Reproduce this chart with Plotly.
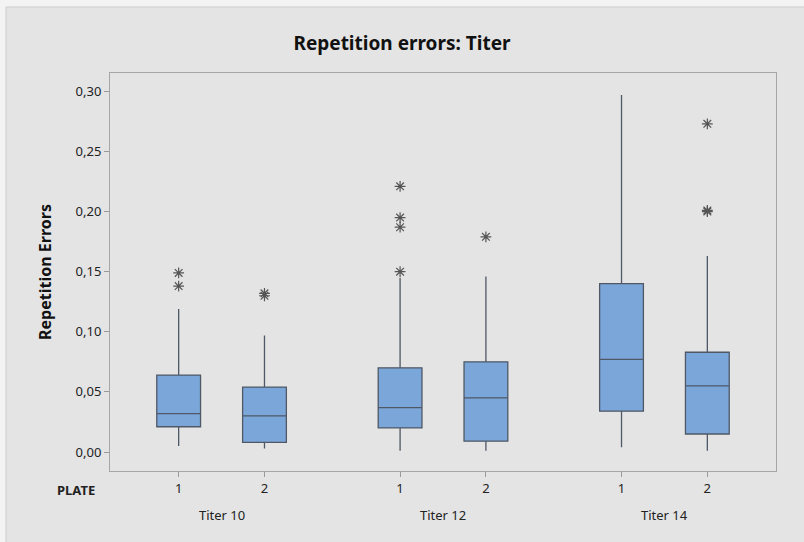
import plotly.graph_objects as go

groups = ["Titer 10", "Titer 12", "Titer 14"]
plates = ["1", "2"]

# per box, order: T10P1, T10P2, T12P1, T12P2, T14P1, T14P2
lower_whisker = [0.005, 0.003, 0.001, 0.001, 0.004, 0.001]
q1 = [0.021, 0.008, 0.020, 0.009, 0.034, 0.015]
median = [0.032, 0.030, 0.037, 0.045, 0.077, 0.055]
q3 = [0.064, 0.054, 0.070, 0.075, 0.140, 0.083]
upper_whisker = [0.119, 0.097, 0.145, 0.146, 0.297, 0.163]
outliers = [
    [0.149, 0.138],
    [0.132, 0.130],
    [0.221, 0.195, 0.187, 0.150],
    [0.179],
    [],
    [0.273, 0.201, 0.200],
]

GAP = 2.58
xpos = []
for g in range(len(groups)):
    for p in range(len(plates)):
        xpos.append(g * GAP + p)

fig = go.Figure()
for i, x in enumerate(xpos):
    fig.add_trace(go.Box(
        x=[x], q1=[q1[i]], median=[median[i]], q3=[q3[i]],
        lowerfence=[lower_whisker[i]], upperfence=[upper_whisker[i]],
        width=0.51, whiskerwidth=0, boxpoints=False,
        fillcolor="#7ba6da", line=dict(color="#4f5866", width=1.3),
        showlegend=False, hoverinfo="skip",
    ))
    if outliers[i]:
        fig.add_trace(go.Scatter(
            x=[x] * len(outliers[i]), y=outliers[i], mode="markers",
            marker=dict(symbol="asterisk-open", size=9, color="#555555",
                        line=dict(color="#555555", width=1.2)),
            showlegend=False, hoverinfo="skip",
        ))

font = "Noto Sans, Open Sans, sans-serif"

fig.update_layout(
    width=804, height=542,
    margin=dict(l=110, r=28, t=73, b=71),
    paper_bgcolor="#f3f3f3", plot_bgcolor="white",
    separators=",.",
    font=dict(family=font, size=12, color="#222222"),
    title=dict(text="<b>Repetition errors: Titer</b>", x=0.5, xanchor="center",
               y=1 - 43 / 542, yanchor="middle",
               font=dict(family=font, size=19, color="#111111")),
    xaxis=dict(
        range=[-0.80, 2 * GAP + 1 + 0.80],
        tickvals=xpos, ticktext=plates * len(groups),
        ticks="outside", ticklen=5, tickcolor="#999999",
        showgrid=False, zeroline=False,
        showline=True, linecolor="#a6a6a6", mirror=True, linewidth=1,
        tickfont=dict(size=13, color="#222222"),
    ),
    yaxis=dict(
        range=[-0.0158, 0.3153],
        tickvals=[0, 0.05, 0.10, 0.15, 0.20, 0.25, 0.30],
        tickformat=".2f",
        ticks="outside", ticklen=5, tickcolor="#999999",
        showgrid=False, zeroline=False,
        showline=True, linecolor="#a6a6a6", mirror=True, linewidth=1,
        tickfont=dict(size=13, color="#222222"),
        title=dict(text="<b>Repetition Errors</b>", standoff=20,
                   font=dict(family=font, size=16, color="#111111")),
    ),
    shapes=[dict(type="rect", xref="paper", yref="paper",
                 x0=(6 - 110) / 666, x1=1.2, y0=-0.3, y1=(471 - 7) / 398,
                 fillcolor="#e4e4e4", line=dict(color="#cdcdcd", width=1),
                 layer="below")],
)

annotations = [dict(text="<b>PLATE</b>", xref="paper", yref="paper",
                    x=(76 - 110) / 666, y=(471 - 490) / 398,
                    showarrow=False, xanchor="center", yanchor="middle",
                    font=dict(size=13, color="#222222"))]
for g, name in enumerate(groups):
    annotations.append(dict(text=name, xref="x", yref="paper",
                            x=g * GAP + 0.5, y=(471 - 515) / 398,
                            showarrow=False, xanchor="center", yanchor="middle",
                            font=dict(size=13, color="#222222")))
fig.update_layout(annotations=annotations)

fig.write_html("out.html")
